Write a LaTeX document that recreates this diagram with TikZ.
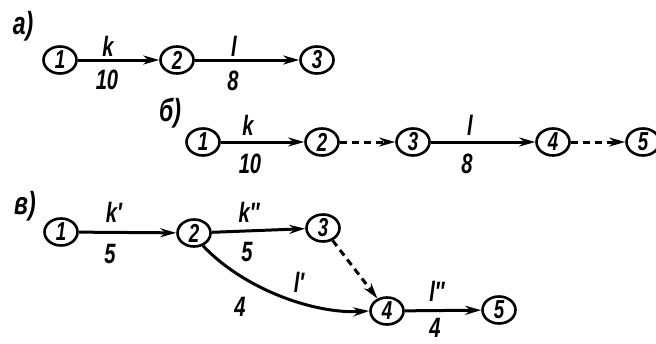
\documentclass[tikz,border=0pt]{standalone}
\usepackage{fontspec}
\setmainfont{Liberation Sans}[FakeStretch=0.72]
\usetikzlibrary{arrows.meta,shapes.geometric}
\begin{document}
\begin{tikzpicture}[x=1pt,y=-1pt,
  ev/.style={ellipse, draw, line width=2.6pt, minimum width=33pt, minimum height=27pt, inner sep=0pt,
    font=\fontsize{26}{26}\selectfont\bfseries\itshape},
  act/.style={line width=3pt, -{Stealth[length=16pt,width=9pt]}},
  dum/.style={act, dash pattern=on 7pt off 5pt},
  lab/.style={font=\fontsize{28}{28}\selectfont\bfseries\itshape, inner sep=0pt},
  sec/.style={font=\fontsize{32}{32}\selectfont\bfseries\itshape, inner sep=0pt}]
\useasboundingbox (0,0) rectangle (656,343);
% a)
\node[sec] (la) at (23,26) {а)};
\node[ev] (A1) at (60,60) {1};
\node[ev] (A2) at (177,60) {2};
\node[ev] (A3) at (317,60) {3};
\draw[act] (A1) -- (A2);
\draw[act] (A2) -- (A3);
\node[lab] (ak) at (108,46) {k};
\node[lab] (a10) at (107,80) {10};
\node[lab] (al) at (234,46) {l};
\node[lab] (a8) at (233,81) {8};
% b)
\node[sec] (lb) at (170,113) {б)};
\node[ev] (B1) at (203,142) {1};
\node[ev] (B2) at (322,142) {2};
\node[ev] (B3) at (413,142) {3};
\node[ev] (B4) at (553,142) {4};
\node[ev] (B5) at (643,142) {5};
\draw[act] (B1) -- (B2);
\draw[dum] (B2) -- (B3);
\draw[act] (B3) -- (B4);
\draw[dum] (B4) -- (B5);
\node[lab] (bk) at (248,125) {k};
\node[lab] (b10) at (250,164) {10};
\node[lab] (bl) at (470,125) {l};
\node[lab] (b8) at (467,164) {8};
% v)
\node[sec] (lv) at (25,206) {в)};
\node[ev] (C1) at (61,232) {1};
\node[ev] (C2) at (194,233) {2};
\node[ev] (C3) at (323,228) {3};
\node[ev] (C4) at (387,311) {4};
\node[ev] (C5) at (499,310) {5};
\draw[act] (C1) -- (C2);
\draw[act] (C2) -- (C3);
\draw[dum] (C3) -- (C4);
\draw[act] (C2.-55) .. controls (245,290) and (315,314) .. (C4.west);
\draw[act] (C4) -- (C5);
\node[lab] (ck1) at (114,212) {k′};
\node[lab] (c5a) at (110,254) {5};
\node[lab] (ck2) at (249,212) {k″};
\node[lab] (c5b) at (247,252) {5};
\node[lab] (cl1) at (299,282) {l′};
\node[lab] (c4a) at (240,307) {4};
\node[lab] (cl2) at (437,291) {l″};
\node[lab] (c4b) at (435,328) {4};
\end{tikzpicture}
\end{document}
